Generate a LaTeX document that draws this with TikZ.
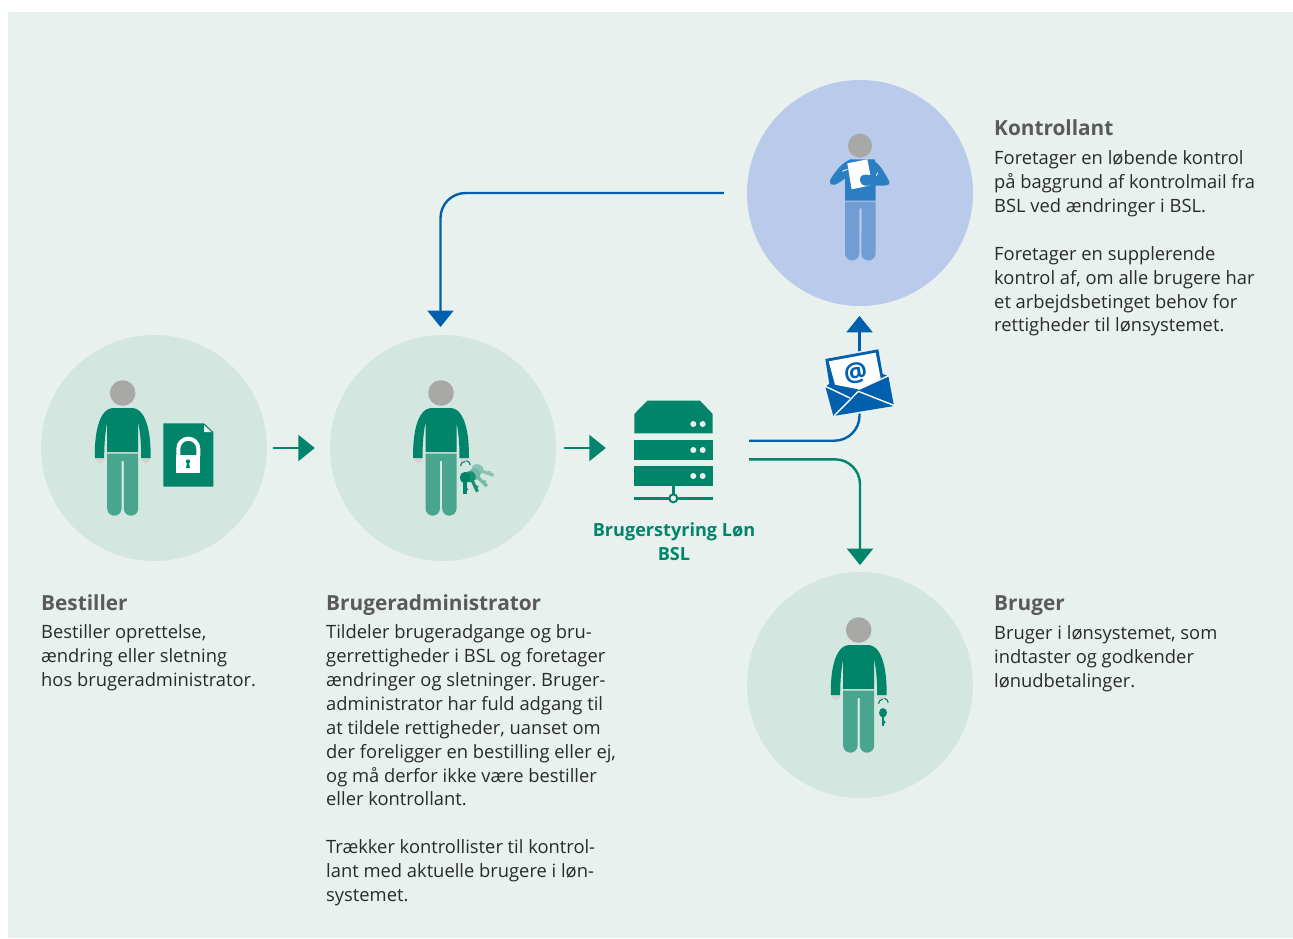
\documentclass[tikz,border=0pt]{standalone}
\usepackage{fontspec}
\setmainfont{Open Sans}
\usetikzlibrary{arrows.meta}
\definecolor{bgc}{HTML}{E8F1EE}
\definecolor{circg}{HTML}{D4E6E0}
\definecolor{circb}{HTML}{B9CAEA}
\definecolor{grn}{HTML}{00856A}
\definecolor{legg}{HTML}{4AA58F}
\definecolor{headc}{HTML}{A8A8A6}
\definecolor{handc}{HTML}{D6D3D3}
\definecolor{blu}{HTML}{0060AE}
\definecolor{blub}{HTML}{2C7EC3}
\definecolor{legb}{HTML}{6F9DD4}
\definecolor{txt}{HTML}{2A2A2A}
\definecolor{hdr}{HTML}{5A5A5A}
\tikzset{
  x=1pt,y=-1pt,
  role/.style={circle,minimum size=226pt,inner sep=0pt,fill=#1},
  body/.style={anchor=north west,inner sep=0pt,align=left,text=txt,font=\fontsize{18.35}{23.9}\selectfont},
  head/.style={anchor=north west,inner sep=0pt,text=hdr,font=\fontsize{20.8}{24}\selectfont\bfseries},
  grnline/.style={draw=grn,line width=2.4pt},
  bluline/.style={draw=blu,line width=2.4pt},
  tipg/.style={-{Triangle[width=26pt,length=16.5pt]}},
}
\newcommand{\drawperson}[2]{%
\begin{scope}[shift={(#1,#2)}]
  \fill[handc] (-27.5,64) .. controls (-27,72.5) and (-19,72.5) .. (-18.5,64) -- cycle;
  \fill[handc] (27.5,64) .. controls (27,72.5) and (19,72.5) .. (18.5,64) -- cycle;
  \fill[legg] (-15.5,60.5) -- (15.5,60.5) -- (15.5,115.5) arc[start angle=0,end angle=180,radius=7.2] -- (1.2,68) -- (-1.2,68) -- (-1.1,115.5) arc[start angle=0,end angle=180,radius=7.2] -- cycle;
  \fill[grn] (-27.8,65) .. controls (-28.5,45) and (-25,15) .. (-9,15) -- (9,15)
     .. controls (25,15) and (28.5,45) .. (27.8,65) -- (18.5,65) .. controls (18.5,50) and (17.5,40) .. (15.5,29)
     -- (15.5,59) -- (-15.5,59) -- (-15.5,29) .. controls (-17.5,40) and (-18.5,50) .. (-18.5,65) -- cycle;
  \fill[headc] (0,0) circle[radius=12.8];
\end{scope}}
\newcommand{\keyicon}[5]{%
\begin{scope}[shift={(#1,#2)},rotate=#3,scale=#5]
  \fill[#4] (0,14) ellipse[x radius=5.5,y radius=6.5];
  \fill[#4] (-1.7,14) rectangle (1.7,32);
  \fill[#4] (1.7,25) -- (3.6,27) -- (1.7,29) -- cycle;
\end{scope}}
\begin{document}
\frenchspacing
\begin{tikzpicture}
\useasboundingbox (0,0) rectangle (1293,938);
\fill[white] (0,0) rectangle (1293,938);
\fill[bgc] (8,12) rectangle (1293,938);
% role circles
\node[role=circg] (best) at (154,448) {};
\node[role=circg] (admin) at (443,448) {};
\node[role=circb] (kont) at (860,193) {};
\node[role=circg] (brug) at (860,685) {};
% persons
\drawperson{122.7}{393}
\drawperson{441}{393}
\drawperson{858.7}{630}
% document with lock
\fill[grn] (163.3,423.3) -- (204,423.3) -- (213.3,432) -- (213.3,486.7) -- (163.3,486.7) -- cycle;
\fill[bgc] (204,425) -- (211.5,432) -- (204,432) -- cycle;
\draw[white,line width=4pt] (178.3,456) -- (178.3,448.7) arc[start angle=180,end angle=360,radius=10] -- (198.3,456);
\fill[white] (176,455) rectangle (200,472.7);
\fill[grn] (188,461.5) circle[radius=2.2];
\fill[grn] (187.2,462) -- (188.8,462) -- (190,468) -- (186,468) -- cycle;
% keys
\keyicon{465}{465}{70}{circg!45!legg}{0.95}
\keyicon{465}{465}{46}{legg!70!circg}{0.95}
\keyicon{465}{465}{25}{grn!70!legg}{0.92}
\keyicon{465}{465}{0}{grn}{0.9}
\draw[grn,line width=1.1pt] (460.5,466) arc[start angle=180,end angle=270,radius=4.5];
\draw[grn,line width=1.1pt] (466.5,460.7) arc[start angle=280,end angle=360,radius=4.5];
\keyicon{883}{702.7}{0}{grn}{0.72}
\draw[grn,line width=1.1pt] (878.5,703.7) arc[start angle=180,end angle=270,radius=4.5];
\draw[grn,line width=1.1pt] (884.5,698.4) arc[start angle=280,end angle=360,radius=4.5];
% Kontrollant person (coordinates of a 3x crop)
\begin{scope}[shift={(810,120)},scale=0.33333]
  \fill[legb] (105,245) -- (197,245) -- (197,400) arc[start angle=0,end angle=180,radius=21.5] -- (155,265) -- (148,265) -- (148,400) arc[start angle=0,end angle=180,radius=21.5] -- cycle;
  % torso
  \fill[blub] (105,242) -- (197,242) -- (197,165) -- (195,118) -- (120,118) -- (105,150) -- cycle;
  % left arm
  \fill[blub] (125,118) .. controls (100,122) and (75,155) .. (60,180) .. controls (56,195) and (70,197) .. (80,192) -- (112,172) -- (125,150) -- cycle;
  % right upper arm
  \fill[blub] (180,118) .. controls (205,122) and (225,160) .. (238,185) -- (205,190) -- (170,150) -- cycle;
  % paper
  \fill[white] (112,130) -- (172,118) -- (187,195) -- (125,208) -- cycle;
  \draw[white,line width=0.8pt] (97,154) -- (112,148);
  \draw[white,line width=0.8pt] (197,172) -- (203,158);
  % right forearm over the paper
  \fill[blub] (150,178) .. controls (150,168) and (158,164) .. (168,164) -- (205,168) -- (238,185) .. controls (240,195) and (230,197) .. (222,197) -- (165,197) .. controls (155,195) and (150,188) .. (150,178) -- cycle;
  \fill[headc] (150,77) circle[radius=36];
\end{scope}
% server
\fill[grn] (634.3,433.3) -- (634.3,414) -- (647.3,400.7) -- (700,400.7) -- (712.7,414) -- (712.7,433.3) -- cycle;
\fill[grn] (634.3,440) rectangle (712.7,460);
\fill[grn] (634.3,466) rectangle (712.7,486);
\foreach \yy in {424,450,476}{
  \fill[bgc] (693.3,\yy) circle[radius=3];
  \fill[bgc] (702.7,\yy) circle[radius=3];
}
\draw[grn,line width=2.4pt] (673.3,486) -- (673.3,498.3);
\draw[grn,line width=2.4pt] (634,498.3) -- (713,498.3);
\draw[grn,line width=2pt,fill=bgc] (673.3,498.3) circle[radius=4];
\node[inner sep=0pt,minimum width=79pt,minimum height=96pt] (srv) at (673.5,448) {};
\node[anchor=north,inner sep=0pt,align=center,text=grn,font=\fontsize{18.1}{24}\selectfont\bfseries] (srvlabel) at (674,523) {Brugerstyring Løn\\BSL};
% connectors
\coordinate (bluestart) at (749,440.7);
\coordinate (grnstart) at (749,459.3);
\coordinate (env) at (859.5,383);
\coordinate (admintop) at (440.5,335);
\draw[grnline,tipg,shorten <=6pt,shorten >=15pt] (best.east) -- (admin.west);
\draw[grnline,tipg,shorten <=8pt,shorten >=28pt] (admin.east) -- (srv.west);
\draw[bluline,rounded corners=25pt] (bluestart) -| (env);
\draw[bluline,-{Triangle[width=26pt,length=16.5pt]},shorten >=9.7pt] (env) -- (env |- kont.south);
\draw[grnline,tipg,rounded corners=25pt,shorten >=6.7pt] (grnstart) -| (brug.north);
\draw[bluline,-{Triangle[width=26pt,length=16.5pt]},rounded corners=25pt,shorten <=23pt,shorten >=8pt] (kont.west) -| (admintop);
% envelope
\begin{scope}[shift={(590,310)},scale=0.33333]
  \fill[bgc] (700,145) -- (868,112) -- (884,186) -- (900,192) -- (918,292) -- (725,325) -- (700,230) -- cycle;
  \fill[blu] (706,147) -- (865,118) -- (878,192) -- (895,198) -- (912,288) -- (730,318) -- (706,230) -- (718,222) -- cycle;
  \fill[white] (716,154) -- (857,128) -- (872,205) -- (806,238) -- (735,224) -- cycle;
  \draw[white,line width=1.4pt] (704,228) -- (780,264);
  \draw[white,line width=1.4pt] (732,318) -- (805,244) -- (914,287);
  \draw[white,line width=1.4pt] (806,238) -- (896,197);
  \node[text=blu,inner sep=0pt,rotate=10,font=\fontsize{26}{26}\selectfont\bfseries] (at) at (797,190) {@};
\end{scope}
% texts
\node[head] (t1h) at (41,594) {Bestiller};
\node[body] (t1) at (41,624.5) {Bestiller oprettelse,\\ændring eller sletning\\hos brugeradministrator.};
\node[head] (t2h) at (326,594) {Brugeradministrator};
\node[body] (t2) at (326,624.5) {Tildeler brugeradgange og bru-\\gerrettigheder i BSL og foretager\\ændringer og sletninger. Bruger-\\administrator har fuld adgang til\\at tildele rettigheder, uanset om\\der foreligger en bestilling eller ej,\\og må derfor ikke være bestiller\\eller kontrollant.\\[23.9pt]Trækker kontrollister til kontrol-\\lant med aktuelle brugere i løn-\\systemet.};
\node[head] (t3h) at (994,119) {Kontrollant};
\node[body] (t3) at (994,150.5) {Foretager en løbende kontrol\\på baggrund af kontrolmail fra\\BSL ved ændringer i BSL.\\[23.9pt]Foretager en supplerende\\kontrol af, om alle brugere har\\et arbejdsbetinget behov for\\rettigheder til lønsystemet.};
\node[head] (t4h) at (994,595) {Bruger};
\node[body] (t4) at (994,625.5) {Bruger i lønsystemet, som\\indtaster og godkender\\lønudbetalinger.};
\end{tikzpicture}
\end{document}
